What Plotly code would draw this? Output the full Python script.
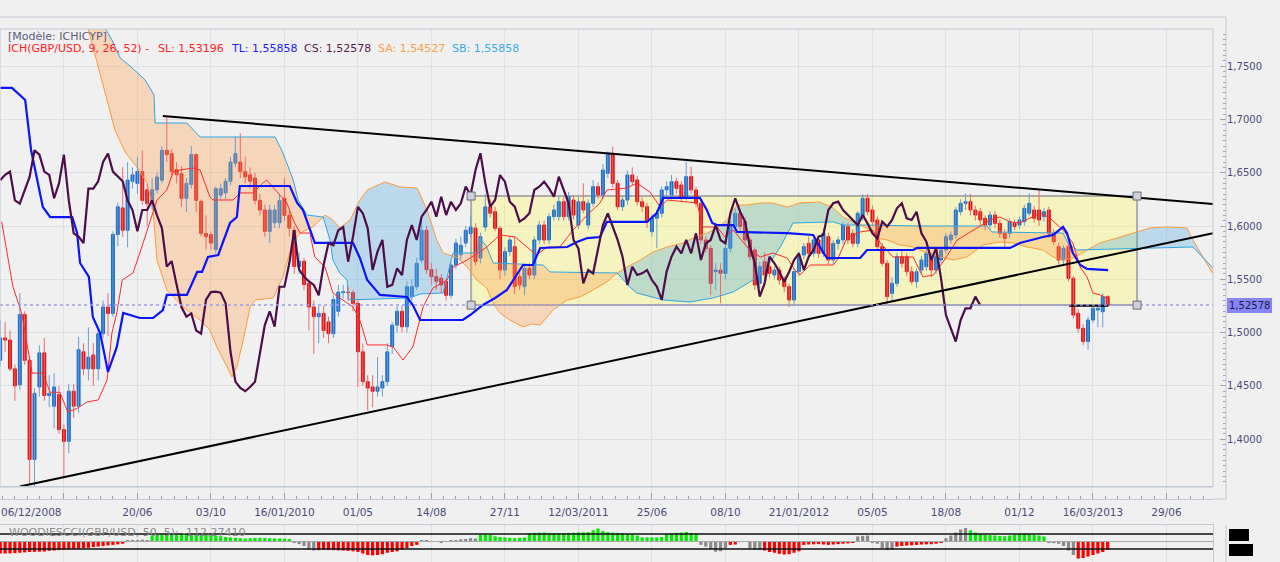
import numpy as np
import plotly.graph_objects as go

# ---------------- data (weekly GBP/USD, week 0 = 06/12/2008) ----------------
open_ = [1.474,1.495,1.493,1.466,1.451,1.517,1.474,1.381,1.449,1.481,
1.441,1.431,1.442,1.409,1.398,1.445,1.431,1.482,1.466,1.479,
1.466,1.499,1.524,1.518,1.592,1.617,1.596,1.642,1.640,1.651,
1.634,1.621,1.634,1.643,1.671,1.668,1.653,1.649,1.626,1.639,
1.667,1.623,1.593,1.592,1.578,1.629,1.631,1.642,1.659,1.660,
1.651,1.648,1.645,1.624,1.615,1.595,1.603,1.603,1.626,1.610,
1.596,1.562,1.567,1.546,1.524,1.515,1.518,1.510,1.499,1.520,
1.5375,1.538,1.5375,1.5275,1.482,1.454,1.449,1.445,1.448,1.454,
1.487,1.507,1.520,1.5055,1.534,1.543,1.568,1.596,1.559,1.5525,
1.551,1.548,1.535,1.5634,1.573,1.584,1.593,1.598,1.570,1.599,
1.618,1.6134,1.5978,1.5587,1.5759,1.5806,1.5525,1.5431,1.5603,1.554,
1.5869,1.6009,1.5869,1.6088,1.6088,1.6228,1.6088,1.6244,1.6009,1.6228,
1.6009,1.6213,1.6369,1.6291,1.6494,1.6682,1.640,1.6181,1.6244,1.6478,
1.6432,1.6228,1.6181,1.5947,1.6072,1.6119,1.6338,1.6291,1.6416,1.6385,
1.6275,1.6463,1.6338,1.6213,1.5869,1.579,1.5572,1.5587,1.5556,1.579,
1.5994,1.6119,1.6041,1.5869,1.5775,1.5462,1.5665,1.5618,1.554,1.5587,
1.5493,1.5431,1.5306,1.5572,1.5728,1.5837,1.5744,1.5869,1.5744,1.5900,
1.5681,1.5837,1.5869,1.5994,1.5931,1.5837,1.6088,1.6260,1.6150,1.6056,
1.5806,1.5650,1.5368,1.5462,1.5712,1.5712,1.5571,1.5478,1.5587,1.5618,
1.5712,1.5587,1.5681,1.5775,1.5869,1.5916,1.6134,1.6213,1.6228,1.6150,
1.6134,1.6072,1.6009,1.6103,1.6025,1.5931,1.5931,1.6025,1.6009,1.6041,
1.6119,1.6150,1.6150,1.6088,1.6150,1.5931,1.5806,1.5681,1.5806,1.5509,
1.5181,1.5040,1.4916,1.5118,1.5212,1.5196,1.5337]

high = [1.512,1.510,1.502,1.470,1.537,1.520,1.478,1.448,1.488,1.495,
1.460,1.462,1.450,1.414,1.452,1.452,1.496,1.490,1.505,1.490,
1.505,1.530,1.537,1.595,1.622,1.655,1.660,1.655,1.665,1.671,
1.640,1.645,1.650,1.675,1.703,1.672,1.660,1.656,1.645,1.675,
1.668,1.625,1.610,1.595,1.637,1.640,1.645,1.665,1.684,1.687,
1.665,1.655,1.650,1.630,1.620,1.620,1.620,1.630,1.645,1.615,
1.600,1.575,1.570,1.550,1.530,1.525,1.525,1.515,1.535,1.545,
1.545,1.543,1.540,1.531,1.490,1.460,1.460,1.477,1.460,1.490,
1.510,1.525,1.525,1.548,1.550,1.570,1.610,1.600,1.565,1.560,
1.555,1.550,1.567,1.588,1.590,1.600,1.610,1.6025,1.594,1.630,
1.625,1.618,1.600,1.580,1.590,1.590,1.556,1.565,1.565,1.590,
1.605,1.605,1.612,1.620,1.628,1.627,1.632,1.628,1.627,1.640,
1.625,1.643,1.641,1.658,1.670,1.6744,1.643,1.628,1.652,1.655,
1.647,1.627,1.622,1.611,1.615,1.637,1.642,1.648,1.645,1.642,
1.6603,1.6557,1.637,1.624,1.590,1.582,1.565,1.565,1.582,1.605,
1.6166,1.615,1.608,1.590,1.580,1.566,1.575,1.566,1.562,1.562,
1.553,1.546,1.560,1.576,1.584,1.590,1.590,1.590,1.598,1.594,
1.587,1.590,1.604,1.603,1.597,1.614,1.630,1.630,1.619,1.609,
1.584,1.568,1.552,1.575,1.577,1.575,1.562,1.560,1.572,1.578,
1.575,1.575,1.580,1.593,1.595,1.618,1.625,1.6306,1.630,1.619,
1.617,1.610,1.614,1.614,1.606,1.597,1.607,1.606,1.609,1.620,
1.6306,1.619,1.6338,1.617,1.618,1.597,1.584,1.582,1.584,1.553,
1.522,1.508,1.515,1.526,1.527,1.537,1.535]

low = [1.468,1.482,1.464,1.436,1.446,1.470,1.357,1.355,1.440,1.436,
1.430,1.410,1.405,1.366,1.387,1.420,1.425,1.460,1.455,1.450,
1.455,1.495,1.497,1.515,1.581,1.590,1.580,1.635,1.630,1.620,
1.600,1.615,1.630,1.640,1.660,1.645,1.640,1.618,1.613,1.635,
1.613,1.590,1.578,1.578,1.574,1.625,1.625,1.638,1.655,1.645,
1.640,1.635,1.620,1.610,1.590,1.584,1.598,1.598,1.605,1.590,
1.555,1.555,1.540,1.502,1.480,1.490,1.495,1.490,1.495,1.515,
1.532,1.530,1.520,1.449,1.450,1.427,1.430,1.440,1.440,1.450,
1.480,1.500,1.500,1.500,1.530,1.540,1.565,1.555,1.545,1.540,
1.537,1.530,1.532,1.560,1.568,1.580,1.590,1.563,1.565,1.595,
1.608,1.595,1.550,1.553,1.572,1.536,1.540,1.535,1.550,1.550,
1.583,1.583,1.583,1.605,1.605,1.605,1.605,1.606,1.597,1.612,
1.597,1.618,1.625,1.625,1.645,1.636,1.615,1.614,1.620,1.638,
1.619,1.613,1.598,1.590,1.579,1.608,1.628,1.625,1.630,1.623,
1.624,1.630,1.618,1.583,1.575,1.535,1.540,1.5275,1.550,1.575,
1.595,1.595,1.583,1.568,1.540,1.542,1.550,1.551,1.550,1.545,
1.538,1.524,1.527,1.553,1.569,1.571,1.571,1.570,1.571,1.564,
1.564,1.578,1.583,1.583,1.580,1.580,1.605,1.610,1.600,1.577,
1.562,1.527,1.530,1.543,1.561,1.553,1.545,1.542,1.555,1.558,
1.552,1.555,1.565,1.574,1.583,1.588,1.610,1.615,1.610,1.605,
1.601,1.596,1.597,1.598,1.589,1.580,1.589,1.596,1.597,1.600,
1.609,1.603,1.600,1.604,1.589,1.582,1.564,1.564,1.548,1.513,
1.500,1.488,1.4837,1.509,1.505,1.505,1.524]

close = [1.495,1.493,1.466,1.450,1.517,1.474,1.381,1.443,1.481,1.441,
1.443,1.449,1.409,1.398,1.445,1.431,1.484,1.466,1.477,1.466,
1.499,1.524,1.518,1.592,1.618,1.596,1.643,1.648,1.651,1.624,
1.621,1.634,1.646,1.671,1.667,1.651,1.648,1.626,1.640,1.667,
1.624,1.593,1.590,1.584,1.635,1.635,1.642,1.660,1.668,1.651,
1.646,1.642,1.624,1.615,1.595,1.615,1.615,1.624,1.610,1.598,
1.562,1.567,1.545,1.524,1.515,1.518,1.502,1.499,1.531,1.538,
1.5384,1.5375,1.5275,1.482,1.454,1.448,1.445,1.449,1.454,1.482,
1.507,1.520,1.5055,1.543,1.543,1.565,1.596,1.559,1.5525,1.548,
1.5447,1.535,1.5634,1.584,1.582,1.596,1.599,1.5665,1.590,1.618,
1.612,1.5978,1.5587,1.5759,1.5869,1.5431,1.5447,1.5603,1.554,1.5869,
1.6009,1.5869,1.6088,1.615,1.6228,1.6088,1.6275,1.6103,1.6228,1.615,
1.6213,1.6369,1.6291,1.6525,1.6682,1.640,1.6181,1.6244,1.6478,1.6416,
1.6228,1.6181,1.6041,1.6072,1.6119,1.6338,1.6369,1.6416,1.6353,1.6275,
1.6463,1.6338,1.6213,1.5869,1.579,1.5462,1.5587,1.5556,1.579,1.6009,
1.6119,1.5994,1.5869,1.5712,1.5447,1.5618,1.554,1.5556,1.5587,1.5493,
1.5431,1.5306,1.5572,1.5712,1.5806,1.5744,1.5869,1.5744,1.5931,1.5681,
1.5837,1.5869,1.6009,1.5869,1.5837,1.6119,1.6260,1.6134,1.6041,1.5806,
1.5650,1.5337,1.5462,1.5712,1.5650,1.5571,1.5478,1.5571,1.5681,1.5744,
1.5587,1.5712,1.5775,1.5900,1.5916,1.6150,1.6213,1.6228,1.6150,1.6103,
1.6056,1.6009,1.6103,1.6025,1.5931,1.5884,1.6041,1.5994,1.6056,1.6166,
1.6213,1.6072,1.6056,1.6134,1.5931,1.5853,1.5681,1.5791,1.5509,1.5165,
1.5040,1.4916,1.5118,1.5228,1.5228,1.5337,1.52578]

# Tenkan (SL) vertices
tenkan_w = [0.3,2.6,4.4,6.5,8.7,10.2,12.2,13.8,15.7,17.7,20.0,21.8,22.8,23.8,24.9,27.1,28.5,30.0,32.0,34.0,
35.3,36.7,39.3,40.8,42.8,43.4,47.5,49.0,51.6,53.6,54.4,56.5,58.5,59.8,61.2,63.2,64.2,66.3,67.9,70.8,
72.0,73.4,74.9,78.9,80.2,82.2,84.2,86.3,88.3,91.2,92.4,95.3,97.9,99.3,102.0,105.1,107.5,109.5,111.6,114.2,
116.9,119.8,122.4,123.8,127.9,129.9,132.6,134.7,136.1,142.2,143.4,146.3,147.9,149.6,152.4,155.1,157.7,160.6,162.2,163.2,
165.3,170.0,170.8,172.8,175.5,178.1,179.6,181.0,182.2,186.3,188.3,190.4,192.4,195.3,198.5,200.4,202.0,204.0,206.1,208.1,
210.2,212.2,214.2,216.9,218.9,220.4,221.8,223.0,224.5,226.0]
tenkan_v = [1.604,1.543,1.518,1.462,1.462,1.444,1.444,1.4255,1.429,1.4349,1.4368,1.4555,1.4996,1.5184,1.5493,1.5559,1.5747,1.5962,1.6244,1.6338,
1.6507,1.6525,1.6544,1.6525,1.6272,1.6244,1.6244,1.631,1.631,1.6403,1.6431,1.6319,1.6216,1.6056,1.5934,1.5934,1.5709,1.5615,1.5371,1.5278,
1.524,1.5118,1.4884,1.4884,1.4865,1.4743,1.4865,1.524,1.5418,1.5493,1.5615,1.5681,1.5756,1.5803,1.5916,1.5897,1.5803,1.5728,1.5803,1.5803,
1.5962,1.6103,1.6216,1.6338,1.6356,1.6403,1.6319,1.6178,1.6244,1.6216,1.5991,1.5991,1.5897,1.5962,1.5803,1.5709,1.5747,1.57,1.5587,1.554,
1.5634,1.5634,1.5681,1.5887,1.5944,1.5962,1.5841,1.5775,1.5709,1.5709,1.5522,1.554,1.5662,1.5869,1.5962,1.6009,1.6056,1.6084,1.6038,1.6028,
1.6075,1.6122,1.6075,1.5962,1.5841,1.5615,1.5522,1.5371,1.5353,1.532]

# Kijun (TL) vertices
kijun_w = [0,2.4,5.1,6.3,8.7,10.2,14.7,15.7,16.3,18.1,18.9,20.4,22.0,23.8,25.1,28.5,31.2,33.2,34.0,38.1,
40.2,41.2,42.4,44.5,46.9,48.3,48.9,59.1,60.6,61.8,64.2,72.0,73.4,74.9,77.5,83.0,84.2,85.7,94.4,95.9,
98.5,101.0,103.4,106.7,108.7,110.2,115.7,117.7,119.8,122.4,123.8,132.0,134.0,135.3,142.8,144.2,145.3,146.3,149.6,150.4,
160.6,165.9,167.3,168.7,175.5,176.9,186.3,187.1,206.1,208.1,212.8,214.9,216.9,217.7,218.9,220.4,221.8,226.1]
kijun_v = [1.7295,1.7295,1.7182,1.6713,1.6178,1.6084,1.6084,1.5934,1.5653,1.5522,1.5146,1.4996,1.4631,1.4865,1.5184,1.5137,1.5137,1.5212,1.5353,1.5353,
1.5569,1.5569,1.5709,1.5728,1.6028,1.6084,1.6375,1.6375,1.6216,1.6150,1.5841,1.5841,1.5700,1.5493,1.5353,1.5334,1.5259,1.5118,1.5118,1.5165,
1.5259,1.5325,1.5400,1.5634,1.5634,1.5794,1.5803,1.5850,1.5887,1.5897,1.6038,1.6038,1.6122,1.6263,1.6263,1.6150,1.6028,1.6009,1.6009,1.5944,
1.5934,1.5916,1.5803,1.5700,1.5700,1.5775,1.5775,1.5794,1.5794,1.5841,1.5897,1.5916,1.5991,1.5934,1.5747,1.5634,1.5597,1.5586]

# Senkou A (SA) vertices
sa_w = [17.1,17.9,21.8,23.4,25.5,27.9,30.0,31.2,32.0,34.0,37.3,40.8,42.8,44.2,46.3,47.3,48.3,49.6,51.0,52.0,
55.7,57.7,59.8,61.6,63.8,66.3,67.9,69.3,71.4,73.4,74.9,78.5,81.6,85.1,87.1,89.1,90.4,93.4,95.3,97.3,
99.3,100.6,102.0,104.0,106.7,108.5,110.2,112.8,115.7,118.3,121.0,123.8,125.9,127.9,130.6,133.2,136.1,139.4,141.4,144.3,
146.3,148.3,149.6,150.4,152.4,155.1,157.7,160.6,163.2,167.3,170.0,172.0,175.5,177.5,178.9,181.0,183.6,186.3,189.1,191.8,
194.5,197.3,200.6,204.0,206.7,209.6,212.8,214.9,216.9,219.0,221.8,224.4,227.9,231.2,234.6,238.1,242.2,243.4,245.5,247.5]
sa_v = [1.8026,1.7857,1.7182,1.6901,1.6694,1.6553,1.6403,1.6150,1.5681,1.5400,1.5240,1.5118,1.5024,1.4865,1.4678,1.4584,1.4678,1.4931,1.5240,1.5306,
1.5325,1.5522,1.5869,1.5944,1.5991,1.6103,1.6056,1.5981,1.6056,1.6244,1.6338,1.6413,1.6366,1.6356,1.6150,1.5869,1.5747,1.5700,1.5615,1.5493,
1.5418,1.5278,1.5184,1.5118,1.5053,1.5081,1.5071,1.5212,1.5306,1.5334,1.5400,1.5475,1.5559,1.5615,1.5681,1.5756,1.5803,1.5841,1.5887,1.5934,
1.5981,1.6056,1.6150,1.6197,1.6197,1.6216,1.6216,1.6178,1.6216,1.6225,1.6169,1.6084,1.6009,1.5962,1.5887,1.5869,1.5822,1.5803,1.5747,1.5709,
1.5681,1.5709,1.5822,1.5850,1.5841,1.5803,1.5775,1.5709,1.5681,1.5700,1.5775,1.5841,1.5887,1.5934,1.5981,1.5991,1.5981,1.5869,1.5709,1.5550]

# Senkou B (SB) vertices
sb_w = [16.5,20.4,21.4,22.8,24.5,26.5,29.6,31.4,31.6,38.1,40.8,56.1,57.7,59.8,60.8,62.6,65.9,67.3,67.9,69.3,
70.8,71.0,83.6,85.7,90.4,92.4,97.3,97.9,99.3,100.6,110.8,112.2,125.9,128.5,129.9,135.3,140.8,145.5,149.6,153.6,
156.5,159.2,161.8,167.3,170.0,172.0,176.9,187.1,201.4,202.4,216.9,217.9,219.8,243.4,247.5]
sb_v = [1.8600,1.8120,1.7857,1.7745,1.7576,1.7501,1.7369,1.7229,1.6966,1.6966,1.6835,1.6835,1.6685,1.6431,1.6244,1.6103,1.6084,1.5869,1.5681,1.5559,
1.5493,1.5306,1.5325,1.5362,1.5372,1.5747,1.5747,1.5887,1.5803,1.5653,1.5634,1.5569,1.5559,1.5428,1.5372,1.5306,1.5287,1.5325,1.5381,1.5493,
1.5615,1.5803,1.6028,1.6038,1.6038,1.6009,1.6009,1.6000,1.6000,1.5944,1.5934,1.5841,1.5775,1.5803,1.5606]

# Woodies CCI histogram (one bar per week) and colour runs
cci = [-160,-160,-158,-155,-150,-145,-140,-138,-136,-134,
-125,-120,-115,-110,-105,-100,-95,-90,-85,
-75,-68,-60,-52,-45,-38,-30,
10,15,20,25,20,
80,90,92,95,100,102,105,100,98,100,95,
90,85,75,70,60,55,50,45,40,
45,48,50,48,45,42,40,38,35,
-20,-35,-60,-110,-120,
-115,-110,-112,-115,-118,-120,-125,-130,-140,-160,-180,-185,-180,-170,-150,-140,-130,-110,-90,-60,-45,
10,8,5,-3,-8,-6,10,
20,30,35,45,40,
90,92,90,70,60,55,50,45,50,55,110,115,118,120,115,112,110,112,115,118,120,122,125,150,173,140,125,118,115,110,
100,95,80,55,55,55,55,60,100,110,115,120,127,115,105,
-45,-70,-100,-136,-130,-90,
-45,-40,-3,-2,
-91,-110,-114,
-120,-140,-150,-165,-173,-170,-150,-130,
-45,-40,-38,-35,-40,-45,-40,-35,-30,-25,-20,
68,75,80,
-10,-30,-91,-114,-110,
-68,-60,-55,-50,-45,-40,-38,-36,-30,-20,
45,80,120,160,180,
150,120,100,90,85,80,75,70,80,90,100,110,100,90,80,68,
-10,-22,-30,-60,-120,-180,
-227,-220,-200,-180,-160,-140,-112]
cci_runs = [("r",26),("k",5),("g",29),("k",5),("r",21),("k",12),("g",45),("k",6),("r",2),
            ("k",5),("r",19),("k",8),("r",10),("k",5),("g",16),("k",6),("r",7)]

# drawn objects
trend_up_w, trend_up_p = [33.2, 247.5], [1.7032, 1.6206]
trend_lo_w, trend_lo_p = [4.0, 247.5], [1.3556, 1.5932]
box_w, box_p = [96.1, 232.0], [1.5258, 1.6281]
support_w, support_p = [218.1, 226.1], 1.5252
last_price = 1.52578

major_w = [13,28,43,58,73,88,103,118,133,148,163,178,193,208,223,238]
major_txt = ["","20/06","03/10","16/01/2010","01/05","14/08","27/11","12/03/2011","25/06",
             "08/10","21/01/2012","05/05","18/08","01/12","16/03/2013","29/06"]
y_ticks = [1.40,1.45,1.50,1.55,1.60,1.65,1.70,1.75]
y_txt = ["1,4000","1,4500","1,5000","1,5500","1,6000","1,6500","1,7000","1,7500"]

# ---------------- figure ----------------
W, H = 1280, 562
def PX(px): return px / W
def PY(py): return 1 - py / H

FONT = "DejaVu Sans"
GRID = "#dde0e4"
FRAME = "#c2cad5"
TXT = "#4b4b7c"
XR = [-0.04, 247.5]
XDOM = [0, 1213 / W]

weeks = list(range(len(close)))
fig = go.Figure()

# cloud fills
lo_, hi_ = max(sa_w[0], sb_w[0]), min(sa_w[-1], sb_w[-1])
g = np.union1d(sa_w, sb_w)
g = g[(g >= lo_) & (g <= hi_)]
a = np.interp(g, sa_w, sa_v)
b = np.interp(g, sb_w, sb_v)
segs = []
cx, ca, cb = [g[0]], [a[0]], [b[0]]
cs = np.sign(a[0] - b[0])
for i in range(1, len(g)):
    s = np.sign(a[i] - b[i])
    if s != 0 and cs != 0 and s != cs:
        d0, d1 = a[i-1] - b[i-1], a[i] - b[i]
        t = d0 / (d0 - d1)
        xc = g[i-1] + t * (g[i] - g[i-1])
        yc = a[i-1] + t * (a[i] - a[i-1])
        cx.append(xc); ca.append(yc); cb.append(yc)
        segs.append((cx, ca, cb, cs))
        cx, ca, cb, cs = [xc], [yc], [yc], s
    cx.append(g[i]); ca.append(a[i]); cb.append(b[i])
    if cs == 0:
        cs = s
segs.append((cx, ca, cb, cs))
for sx, sa_, sb_, sg in segs:
    col = "rgba(80,170,225,0.33)" if sg > 0 else "rgba(255,160,80,0.33)"
    fig.add_trace(go.Scatter(x=list(sx) + list(sx)[::-1], y=list(sa_) + list(sb_)[::-1],
                             fill="toself", fillcolor=col, mode="lines", line=dict(width=0),
                             hoverinfo="skip"))

fig.add_trace(go.Scatter(x=sa_w, y=sa_v, mode="lines", line=dict(color="#ff9a3c", width=1)))
fig.add_trace(go.Scatter(x=sb_w, y=sb_v, mode="lines", line=dict(color="#2fa6e0", width=1)))

# candles: wicks
wxu, wyu, wxd, wyd = [], [], [], []
for i in weeks:
    if close[i] >= open_[i]:
        wxu += [i, i, None]; wyu += [low[i], high[i], None]
    else:
        wxd += [i, i, None]; wyd += [low[i], high[i], None]
fig.add_trace(go.Scatter(x=wxu, y=wyu, mode="lines", line=dict(color="#6a9fd8", width=1)))
fig.add_trace(go.Scatter(x=wxd, y=wyd, mode="lines", line=dict(color="#ee6a6a", width=1)))
# candles: bodies
bcol = ["#1a6cc7" if c >= o else "#e01010" for o, c in zip(open_, close)]
fig.add_trace(go.Bar(x=weeks, y=[abs(c - o) for o, c in zip(open_, close)],
                     base=[min(o, c) for o, c in zip(open_, close)], width=0.6,
                     marker=dict(color=bcol, line=dict(color=bcol, width=1))))

# ichimoku lines
fig.add_trace(go.Scatter(x=tenkan_w, y=tenkan_v, mode="lines", line=dict(color="#ff2a2a", width=1)))
fig.add_trace(go.Scatter(x=kijun_w, y=kijun_v, mode="lines", line=dict(color="#0a14ff", width=2.2)))
fig.add_trace(go.Scatter(x=[w - 26 for w in weeks[26:]], y=close[26:], mode="lines",
                         line=dict(color="#4d0c4a", width=2.2)))

# trend lines
fig.add_trace(go.Scatter(x=trend_up_w, y=trend_up_p, mode="lines", line=dict(color="black", width=2)))
fig.add_trace(go.Scatter(x=trend_lo_w, y=trend_lo_p, mode="lines", line=dict(color="black", width=2)))
fig.add_trace(go.Scatter(x=support_w, y=[support_p, support_p], mode="lines", line=dict(color="black", width=2)))
# current price dotted line
fig.add_trace(go.Scatter(x=XR, y=[last_price, last_price], mode="lines",
                         line=dict(color="#9c9cf2", width=1.5, dash="3px,3px")))
# box handles
fig.add_trace(go.Scatter(x=[box_w[0], box_w[0], box_w[1], box_w[1]],
                         y=[box_p[0], box_p[1], box_p[0], box_p[1]], mode="markers",
                         marker=dict(symbol="square", size=8, color="#cfd0dc",
                                     line=dict(color="#6c6c7c", width=1))))

# date strip (invisible anchor trace so the axis is drawn)
fig.add_trace(go.Scatter(x=[XR[0]], y=[-1], mode="markers", marker=dict(opacity=0),
                         xaxis="x2", yaxis="y3"))

# CCI
ccol_map = {"r": "#ff0000", "g": "#00ee00", "k": "#8a8a8a"}
ccol = []
for c, n in cci_runs:
    ccol += [ccol_map[c]] * n
fig.add_trace(go.Bar(x=weeks, y=cci, width=0.66, marker=dict(color=ccol, line=dict(width=0)),
                     xaxis="x3", yaxis="y4"))
for lvl, colr, wd in [(100, "#111111", 1.5), (-100, "#111111", 1.5), (0, "#a8a8a8", 1)]:
    fig.add_trace(go.Scatter(x=XR, y=[lvl, lvl], mode="lines", line=dict(color=colr, width=wd),
                             xaxis="x3", yaxis="y4"))

minor_w = [13 + 2.5 * k for k in range(-5, 94) if k % 6 != 0]
common_x = dict(range=XR, domain=XDOM, tickmode="array", tickvals=major_w,
                showgrid=True, gridcolor=GRID, gridwidth=1, zeroline=False)

fig.update_layout(
    width=W, height=H, margin=dict(l=0, r=0, t=0, b=0),
    paper_bgcolor="#f0f0f0", plot_bgcolor="#f0f0f0",
    showlegend=False, hovermode=False, barmode="overlay",
    font=dict(family=FONT, size=11, color=TXT),
    xaxis=dict(**common_x, anchor="y", showticklabels=False, ticks=""),
    yaxis=dict(domain=[PY(487), PY(29)], range=[1.35516, 1.78480], side="right",
               anchor="free", position=PX(1226), tickmode="array", tickvals=y_ticks,
               ticktext=y_txt, ticks="inside", ticklen=6, tickcolor="#9aa3b0",
               minor=dict(ticks="inside", ticklen=3, dtick=0.005, tick0=1.4,
                          tickcolor="#9aa3b0", showgrid=False),
               showgrid=True, gridcolor=GRID, zeroline=False, showline=False,
               tickfont=dict(family=FONT, size=10, color=TXT)),
    xaxis2=dict(**common_x, anchor="y3", ticktext=major_txt, ticks="inside", ticklen=6,
                tickcolor="#9aa3b0",
                minor=dict(ticks="inside", ticklen=3, tickmode="array", tickvals=minor_w,
                           tickcolor="#9aa3b0", showgrid=False),
                showline=True, linecolor=FRAME, mirror=True, showticklabels=True,
                ticklabelstandoff=3,
                tickfont=dict(family=FONT, size=10.5, color=TXT)),
    yaxis3=dict(domain=[PY(499), PY(487)], range=[0, 1], anchor="x2", showticklabels=False,
                showgrid=False, zeroline=False, ticks=""),
    xaxis3=dict(**common_x, anchor="y4", showticklabels=False, ticks="",
                showline=True, linecolor=FRAME, mirror=True),
    yaxis4=dict(domain=[0, PY(525)], range=[-273, 220], anchor="x3", showticklabels=False,
                showgrid=False, zeroline=False, ticks="", showline=True, linecolor=FRAME,
                mirror=True),
)

shapes = [
    dict(type="rect", xref="x", yref="y", x0=box_w[0], x1=box_w[1], y0=box_p[0], y1=box_p[1],
         fillcolor="rgba(255,250,100,0.35)", line=dict(color="rgba(150,150,150,0.75)", width=2),
         layer="between"),
    dict(type="rect", xref="paper", yref="paper", x0=0, x1=PX(1213), y0=PY(487), y1=PY(29),
         line=dict(color=FRAME, width=1)),
    dict(type="line", xref="paper", yref="paper", x0=0, x1=PX(1226), y0=PY(17), y1=PY(17),
         line=dict(color=FRAME, width=1)),
    dict(type="line", xref="paper", yref="paper", x0=PX(1226), x1=PX(1226), y0=PY(499), y1=PY(17),
         line=dict(color=FRAME, width=1)),
    dict(type="line", xref="paper", yref="paper", x0=PX(1213), x1=PX(1226), y0=PY(499), y1=PY(499),
         line=dict(color=FRAME, width=1)),
    dict(type="line", xref="paper", yref="paper", x0=PX(1226), x1=PX(1226), y0=0, y1=PY(525),
         line=dict(color=FRAME, width=1)),
    dict(type="rect", xref="paper", yref="paper", x0=PX(1229), x1=PX(1249), y0=PY(541), y1=PY(529),
         fillcolor="black", line=dict(width=0)),
    dict(type="rect", xref="paper", yref="paper", x0=PX(1229), x1=PX(1253), y0=PY(556), y1=PY(544),
         fillcolor="black", line=dict(width=0)),
    dict(type="rect", xref="paper", yref="paper", x0=PX(1227), x1=PX(1272), y0=PY(313), y1=PY(298),
         fillcolor="#8585f5", line=dict(width=0)),
]
fig.update_layout(shapes=shapes)

ann = []
def txt(x, y, s, color, size=11, anchor="left"):
    ann.append(dict(xref="paper", yref="paper", x=PX(x), y=PY(y), text=s, showarrow=False,
                    xanchor=anchor, yanchor="middle", font=dict(family=FONT, size=size, color=color)))
txt(6, 36, "[Modèle: ICHICYP]", "#5c5c7e")
txt(6, 48.5, "ICH(GBP/USD, 9, 26, 52) -", "#ff2222")
txt(156, 48.5, "SL: 1,53196", "#ff2222")
txt(229, 48.5, "TL: 1,55858", "#2222ff")
txt(302, 48.5, "CS: 1,52578", "#5a1c4c")
txt(376, 48.5, "SA: 1,54527", "#ffa048")
txt(450, 48.5, "SB: 1,55858", "#3aaaf0")
txt(-1, 512, "06/12/2008", TXT, size=10.5)
txt(7, 532.5, "WOODIESCCI(GBP/USD, 50, 5): -112,27410", "#8c8c8c")
txt(1249.5, 305.5, "1,52578", "#1c1c44", size=10, anchor="center")
fig.update_layout(annotations=ann)

fig.write_html("out.html", config={"displayModeBar": False},
               post_script="document.body.style.margin='0';")
